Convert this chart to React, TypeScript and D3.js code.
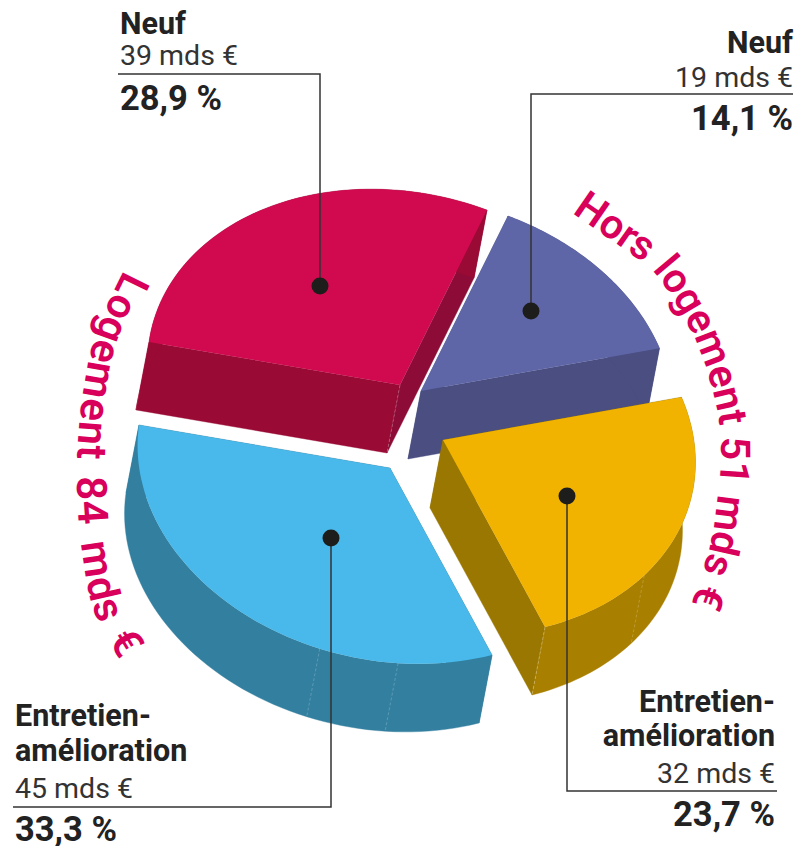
import React from "react";
import * as d3 from "d3";

const categories = ["Neuf", "Entretien-amélioration", "Entretien-amélioration", "Neuf"];
const amounts = [19, 32, 45, 39];
const shares = ["14,1 %", "23,7 %", "33,3 %", "28,9 %"];
const amountLabels = ["19 mds €", "32 mds €", "45 mds €", "39 mds €"];
const topColors = ["#5f66a8", "#f2b300", "#48b9ea", "#d10a50"];
const wallColors = ["#4a4e80", "#a97f00", "#337f9f", "#990a35"];
const startFaceColors = ["#4a4e80", "#9a7700", "#337f9f", "#990a35"];
const endFaceColors = ["#4a4e80", "#9a7700", "#337f9f", "#8d0c37"];
const groupLabels = ["Logement 84 mds €", "Hors logement 51 mds €"];

// Tilted-disc projection: image of the unit circle's axes, in px
const AX: [number, number] = [87, -175];
const AY: [number, number] = [237, 88];
const DEPTH: [number, number] = [-13, 68];
const apexes: [number, number][] = [[421, 391], [443, 440], [390, 468], [400, 385]];
const seamDegrees = [[], [107], [158, 176], []] as number[][];
const dots: [number, number][] = [[531, 311], [567, 496], [331, 538], [320, 286]];
const leaderEnds: [number, number][] = [[793, 94], [777, 791], [13, 807], [118, 74]];

const leftBaseline: [number, number][] = [[124, 270], [105, 310], [92, 347], [83, 393], [78, 440], [77, 490], [80, 535], [90, 597], [100, 625], [125, 668]];
const rightBaseline: [number, number][] = [[572, 213], [628, 252], [652, 270], [687, 323], [705, 365], [719, 420], [721, 460], [717, 503], [712, 537], [703, 570], [684, 625]];

const FONT = "Roboto, sans-serif";
type P = [number, number];

function project(apex: P, a: number, r = 1): P {
  return [
    apex[0] + r * (Math.cos(a) * AX[0] + Math.sin(a) * AY[0]),
    apex[1] + r * (Math.cos(a) * AX[1] + Math.sin(a) * AY[1]),
  ];
}
const down = (p: P): P => [p[0] + DEPTH[0], p[1] + DEPTH[1]];
const line = d3.line<P>();
const closed = (pts: P[]) => line(pts) + "Z";
const curve = d3.line<P>().curve(d3.curveCatmullRom.alpha(0.5));

function Labels({ x, anchor, lines, amount, share, yLines, yAmount, yShare }: any) {
  const common = { x, textAnchor: anchor, fontFamily: FONT, fill: "#222" };
  return (
    <g>
      {lines.map((t: string, i: number) => (
        <text key={i} {...common} y={yLines[i]} fontSize={30.5} fontWeight={700}>{t}</text>
      ))}
      <text {...common} y={yAmount} fontSize={28.5} fontWeight={400} fill="#333">{amount}</text>
      <text {...common} y={yShare} fontSize={34.5} fontWeight={700}>{share}</text>
    </g>
  );
}

export default function App() {
  const arcs = d3.pie<number>().sort(null).startAngle(0).endAngle(2 * Math.PI)(amounts);
  const order = [3, 0, 1, 2];
  return (
    <svg width={798} height={846} style={{ position: "absolute", left: 0, top: 0, background: "#fff" }}>
      <defs>
        <path id="leftPath" d={curve(leftBaseline)!} />
        <path id="rightPath" d={curve(rightBaseline)!} />
      </defs>
      {order.map((i) => {
        const arc = arcs[i];
        const apex = apexes[i];
        const samples = d3.range(0, 61).map((k) => d3.interpolateNumber(arc.startAngle, arc.endAngle)(k / 60));
        const rim = samples.map((a) => project(apex, a));
        const first = rim[0];
        const last = rim[rim.length - 1];
        const wall = [...rim, ...rim.map(down).reverse()];
        return (
          <g key={i}>
            <path d={closed([apex, first, down(first), down(apex)])} fill={startFaceColors[i]} stroke={startFaceColors[i]} strokeWidth={0.4} />
            <path d={closed([apex, last, down(last), down(apex)])} fill={endFaceColors[i]} stroke={endFaceColors[i]} strokeWidth={0.4} />
            <path d={closed(wall)} fill={wallColors[i]} stroke={wallColors[i]} strokeWidth={0.4} />
            {seamDegrees[i].map((deg) => {
              const p = project(apex, (deg * Math.PI) / 180);
              return <path key={deg} d={line([p, down(p)])!} stroke="#fff" strokeOpacity={0.2} strokeDasharray="3 2" />;
            })}
            {i === 1 && <path d={line([last, down(last)])!} stroke="#fff" strokeOpacity={0.3} strokeDasharray="3 2" />}
            {i === 3 && <path d={line([apex, down(apex)])!} stroke="#fff" strokeOpacity={0.25} strokeDasharray="3 2" />}
            <path d={closed([apex, ...rim])} fill={topColors[i]} />
          </g>
        );
      })}
      {order.map((i) => {
        const [dx, dy] = dots[i];
        const [ex, ey] = leaderEnds[i];
        return (
          <g key={i}>
            <path d={line([[dx, dy], [dx, ey], [ex, ey]])!} fill="none" stroke="#333" strokeWidth={1.5} />
            <circle cx={dx} cy={dy} r={8.5} fill="#1d1d1b" />
          </g>
        );
      })}
      <Labels x={120} anchor="start" lines={[categories[3]]} amount={amountLabels[3]} share={shares[3]} yLines={[34]} yAmount={65} yShare={110} />
      <Labels x={793} anchor="end" lines={[categories[0]]} amount={amountLabels[0]} share={shares[0]} yLines={[53]} yAmount={87} yShare={130} />
      <Labels x={15} anchor="start" lines={["Entretien-", "amélioration"]} amount={amountLabels[2]} share={shares[2]} yLines={[726, 761]} yAmount={798} yShare={840.5} />
      <Labels x={775} anchor="end" lines={["Entretien-", "amélioration"]} amount={amountLabels[1]} share={shares[1]} yLines={[712, 746]} yAmount={783} yShare={826} />
      <text fontFamily={FONT} fontSize={42} fontWeight={600} fill="#d8005a" letterSpacing={1} wordSpacing={5}>
        <textPath href="#leftPath">{groupLabels[0]}</textPath>
      </text>
      <text fontFamily={FONT} fontSize={41} fontWeight={600} fill="#d8005a" wordSpacing={1} letterSpacing={-0.2}>
        <textPath href="#rightPath">{groupLabels[1]}</textPath>
      </text>
    </svg>
  );
}
